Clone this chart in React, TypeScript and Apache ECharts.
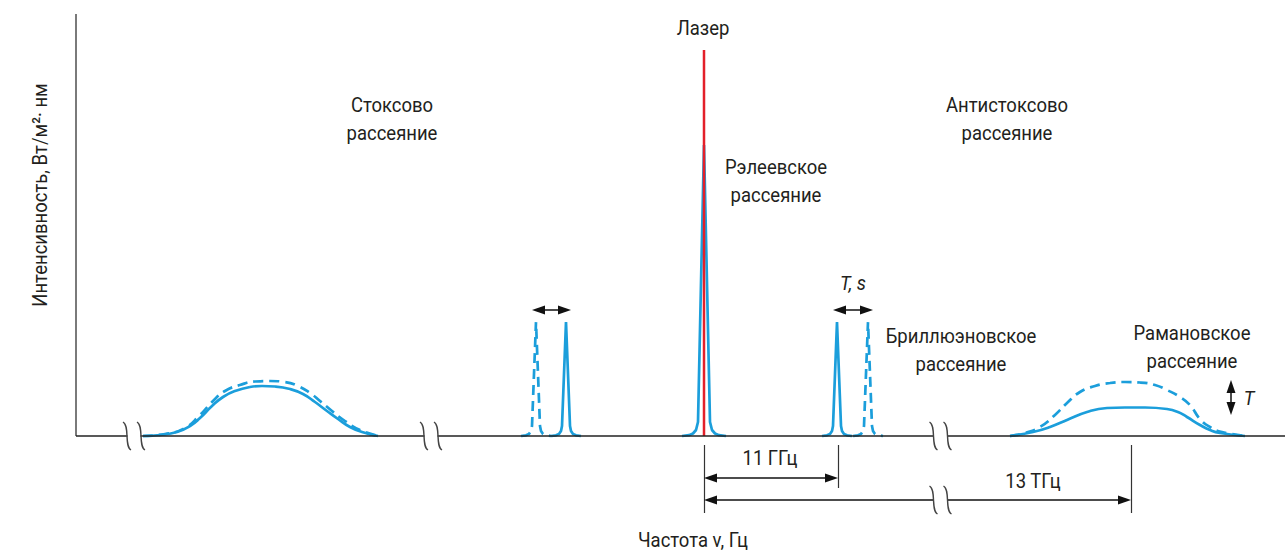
import React, { useEffect, useRef } from "react";
import * as echarts from "echarts";

// ---- Data (schematic values; x ≈ frequency position, y ≈ intensity) ----
const stokesRamanSolid: number[][] = [
  [143, 0], [160, 1], [177, 4], [190, 10], [200, 18], [212, 30], [223, 39], [235, 45], [250, 49],
  [262, 50], [275, 49.5], [290, 47], [303, 42], [315, 34], [327, 25], [338, 17], [350, 9], [362, 4], [378, 0],
];
const stokesRamanDashed: number[][] = [
  [143, 0], [165, 2], [185, 8], [200, 21], [212, 34], [225, 45], [240, 51], [255, 54.5], [270, 55],
  [285, 54], [298, 50], [310, 43], [320, 35], [332, 25], [345, 15], [360, 6], [378, 0],
];
const stokesBrillouinDashed: number[][] = [
  [521, 0], [526, 0.7], [529, 2], [531, 5], [532, 10], [536, 114], [540, 10], [541, 5], [543, 2], [546, 0.7], [551, 0],
];
const stokesBrillouinSolid: number[][] = [
  [551, 0], [556, 0.7], [559, 2], [561, 5], [562, 10], [566, 114], [570, 10], [571, 5], [573, 2], [576, 0.7], [581, 0],
];
const rayleigh: number[][] = [
  [682, 0], [689, 0.8], [693, 2.5], [696, 6], [698, 14], [704, 291], [710, 14], [712, 6], [715, 2.5], [719, 0.8], [726, 0],
];
const laser: number[][] = [[704, 0], [704, 386]];
const antiBrillouinSolid: number[][] = [
  [822, 0], [827, 0.7], [830, 2], [832, 5], [833, 10], [837, 114], [841, 10], [842, 5], [844, 2], [847, 0.7], [852, 0],
];
const antiBrillouinDashed: number[][] = [
  [853, 0], [858, 0.7], [861, 2], [863, 5], [864, 10], [868, 114], [872, 10], [873, 5], [875, 2], [878, 0.7], [883, 0],
];
const antiRamanSolid: number[][] = [
  [1010, 0], [1033, 4], [1050, 9], [1067, 16], [1087, 24], [1107, 28], [1125, 28.5], [1145, 28.5], [1167, 27],
  [1178, 24], [1187, 19], [1200, 11], [1210, 6], [1220, 3], [1245, 0],
];
const antiRamanDashed: number[][] = [
  [1010, 0], [1025, 3], [1040, 9], [1055, 21], [1067, 33], [1080, 44], [1095, 50], [1110, 53], [1125, 54],
  [1140, 53.5], [1155, 51], [1167, 46], [1180, 39], [1190, 31], [1200, 17], [1210, 9], [1222, 4], [1245, 0],
];

// axis frame, dimension lines and arrows (in the same coordinates)
const yAxisLine: number[][] = [[76, 0], [76, 422]];
const xAxisLine: number[][] = [[76, 0], [1285, 0]];
const extensionLines: number[][][] = [
  [[704, -9], [704, -77]],
  [[838, -9], [838, -52]],
  [[1131, -9], [1131, -77]],
];
const arrows: number[][][] = [
  [[704, -42], [838, -42]],
  [[704, -64], [1131, -64]],
  [[532, 126], [571, 126]],
  [[833, 126], [873, 126]],
  [[1231, 56], [1231, 21]],
];
const breakMarks: number[][] = [[134, 0], [431, 0], [940.5, 0], [940.5, -64]];

const BLUE = "#1b9edb";
const RED = "#e3202a";
const INK = "#231f20";
const FONT = "21px Roboto";
const SX = 0.88;
const HEAD_LEN = 13;

function txt(text: string, x: number, y: number, extra: any = {}) {
  return {
    type: "text",
    x,
    y,
    scaleX: SX,
    silent: true,
    z: 10,
    ...extra,
    style: {
      text,
      fill: INK,
      font: extra.font || FONT,
      align: "center",
      verticalAlign: "middle",
      textAlign: "center",
      textVerticalAlign: "middle",
      lineHeight: 28,
    },
  };
}

export default function App() {
  const ref = useRef<HTMLDivElement>(null);
  useEffect(() => {
    if (!ref.current) return;
    const chart = echarts.init(ref.current, undefined, { renderer: "svg" });
    const curve = (data: number[][], dashed: boolean, smooth: boolean | number, z = 3) => ({
      type: "line",
      data,
      smooth,
      showSymbol: false,
      symbol: "none",
      silent: true,
      z,
      lineStyle: { color: BLUE, width: 2.7, type: dashed ? [10, 6] : "solid", cap: "butt" },
    });
    const ml = (pairs: number[][][], lineStyle: any, symbol: any, symbolSize: any) => ({
      silent: true,
      animation: false,
      symbol,
      symbolSize,
      label: { show: false },
      emphasis: { disabled: true },
      lineStyle,
      data: pairs.map((p) => [{ coord: p[0] }, { coord: p[1] }]),
    });
    // arrow heads are centred on their end points: move ends inwards so the tips touch them
    const arrowPairs = arrows.map(([a, b]) => {
      const dx = b[0] - a[0];
      const dy = b[1] - a[1];
      const len = Math.hypot(dx, dy);
      const ux = dx / len;
      const uy = dy / len;
      const h = HEAD_LEN / 2;
      return [
        [a[0] + ux * h, a[1] + uy * h],
        [b[0] - ux * h, b[1] - uy * h],
      ];
    });
    chart.setOption({
      animation: false,
      backgroundColor: "#ffffff",
      grid: { left: 76, right: 0, top: 14, bottom: 33 },
      xAxis: { type: "value", min: 76, max: 1285, show: false },
      yAxis: { type: "value", min: -84, max: 422, show: false },
      graphic: [
        txt("Лазер", 703, 28),
        txt("Стоксово\nрассеяние", 392, 119),
        txt("Антистоксово\nрассеяние", 1007, 119),
        txt("Рэлеевское\nрассеяние", 776, 181),
        txt("Бриллюэновское\nрассеяние", 961, 350),
        txt("Рамановское\nрассеяние", 1192, 347),
        txt("T, s", 853, 283, { font: "italic 21px Roboto" }),
        txt("T", 1249, 398, { font: "italic 21px Roboto" }),
        txt("11 ГГц", 770, 458),
        txt("13 ТГц", 1033, 481),
        txt("Частота ν, Гц", 693, 540),
        txt("Интенсивность, Вт/м²· нм", 40, 195, { rotation: Math.PI / 2 }),
      ],
      series: [
        {
          type: "line",
          data: [],
          z: 1,
          markLine: {
            ...ml([], {}, "none", 0),
            data: [
              [{ coord: yAxisLine[0], lineStyle: { color: "#7a7a7a", width: 2, type: "solid" } }, { coord: yAxisLine[1] }],
              [{ coord: xAxisLine[0], lineStyle: { color: "#222", width: 1.5, type: "solid" } }, { coord: xAxisLine[1] }],
            ],
          },
        },
        {
          type: "line",
          data: [],
          z: 1,
          markLine: ml(extensionLines, { color: "#333", width: 1.2, type: "solid" }, "none", 0),
        },
        curve(stokesRamanSolid, false, 0.5),
        curve(stokesRamanDashed, true, 0.5),
        curve(stokesBrillouinDashed, true, false),
        curve(stokesBrillouinSolid, false, false),
        curve(rayleigh, false, false),
        curve(antiBrillouinSolid, false, false),
        curve(antiBrillouinDashed, true, false),
        curve(antiRamanSolid, false, 0.5),
        curve(antiRamanDashed, true, 0.5),
        {
          type: "line",
          data: laser,
          showSymbol: false,
          symbol: "none",
          silent: true,
          z: 4,
          lineStyle: { color: RED, width: 2.5 },
        },
        {
          type: "line",
          data: [],
          z: 5,
          markLine: ml(arrowPairs, { color: "#111", width: 1.5, type: "solid" }, ["triangle", "triangle"], [9, HEAD_LEN]),
        },
        {
          type: "custom",
          data: breakMarks,
          z: 6,
          silent: true,
          renderItem: (params: any, api: any) => {
            const c = api.coord([api.value(0), api.value(1)]);
            const mark = (dx: number) => ({
              type: "bezierCurve",
              shape: {
                x1: c[0] + dx - 4, y1: c[1] - 14,
                cpx1: c[0] + dx + 3, cpy1: c[1] - 10,
                cpx2: c[0] + dx - 3, cpy2: c[1] + 10,
                x2: c[0] + dx + 4, y2: c[1] + 14,
              },
              style: { stroke: "#444", lineWidth: 1.4, fill: null },
            });
            return {
              type: "group",
              children: [
                { type: "rect", shape: { x: c[0] - 6.5, y: c[1] - 2, width: 13, height: 4 }, style: { fill: "#fff" } },
                mark(-7),
                mark(7),
              ],
            };
          },
        },
      ],
    });
    return () => chart.dispose();
  }, []);
  return (
    <div
      ref={ref}
      style={{ position: "absolute", left: 0, top: 0, width: 1285, height: 553, background: "#fff" }}
    />
  );
}
